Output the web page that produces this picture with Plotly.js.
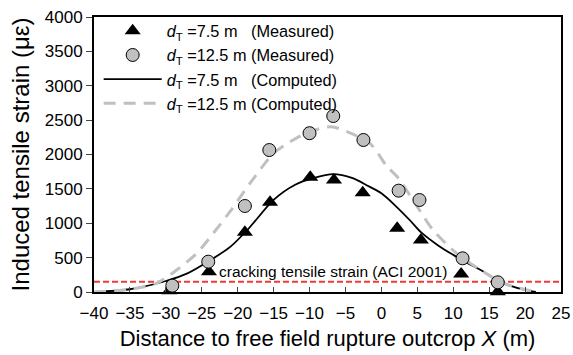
<!DOCTYPE html>
<html>
<head>
<meta charset="utf-8">
<script src="https://cdn.plot.ly/plotly-3.0.1.min.js"></script>
<style>html,body{margin:0;padding:0;background:#fff;}#chart{width:573px;height:355px;}</style>
</head>
<body>
<div id="chart"></div>
<script>
// Measured data, d_T = 7.5 m
var measX75 = [-29.5, -24, -19, -15.5, -9.9, -6.6, -2.6, 2.2, 5.5, 11.1, 16.2];
var measY75 = [20, 295, 868, 1305, 1668, 1630, 1445, 926, 756, 262, 5];
// Measured data, d_T = 12.5 m
var measX125 = [-29.1, -24.1, -19, -15.6, -10, -6.7, -2.5, 2.4, 5.3, 11.3, 16.2];
var measY125 = [92, 441, 1251, 2065, 2310, 2560, 2211, 1474, 1338, 490, 141];
// Computed curve, d_T = 7.5 m
var compX75 = [-40, -35, -30, -27, -24, -21, -18.5, -15, -12, -9.5, -6.7, -4, -2, 0, 2, 4, 5.5, 8, 10, 12, 14, 16, 18, 20, 21.5];
var compY75 = [0, 40, 160, 270, 450, 660, 920, 1340, 1560, 1655, 1715, 1655, 1550, 1435, 1250, 1040, 870, 670, 540, 420, 310, 180, 90, 30, 0];
// Computed curve, d_T = 12.5 m
var compX125 = [-40, -35, -31.3, -28.5, -25.7, -23.4, -21, -18.3, -15, -12.7, -10, -7, -4.8, -1.6, 0.8, 2.2, 5, 7.2, 10.5, 13.8, 17, 20.7, 22];
var compY125 = [0, 40, 126, 320, 563, 854, 1180, 1580, 2017, 2186, 2330, 2404, 2332, 2163, 1823, 1677, 1240, 900, 560, 320, 126, 20, 0];
// Cracking tensile strain threshold (ACI 2001)
var crackX = [-40, 25];
var crackY = [150, 150];
var crackLabel = "cracking tensile strain (ACI 2001)";
var legendNames = [
  "<i>d</i><sub>T</sub> =7.5 m\u00a0\u00a0\u00a0(Measured)",
  "<i>d</i><sub>T</sub> =12.5 m (Measured)",
  "<i>d</i><sub>T</sub> =7.5 m\u00a0\u00a0\u00a0(Computed)",
  "<i>d</i><sub>T</sub> =12.5 m (Computed)"
];

var FONT = "Liberation Sans, Arial, sans-serif";

var traces = [
  {x: crackX, y: crackY, mode: "lines", showlegend: false, hoverinfo: "skip",
   line: {color: "#ee3a30", width: 2, dash: "6px,3px"}},
  {x: compX75, y: compY75, mode: "lines", name: legendNames[2], legendrank: 3,
   line: {color: "#000000", width: 1.8, shape: "spline", smoothing: 0.8}},
  {x: compX125, y: compY125, mode: "lines", name: legendNames[3], legendrank: 4,
   line: {color: "#c0c0c0", width: 3, dash: "12px,8px", shape: "spline", smoothing: 0.8}},
  {x: measX75, y: measY75, mode: "markers", name: legendNames[0], legendrank: 1, cliponaxis: false,
   marker: {symbol: "triangle-up", size: 14, color: "#000000"}},
  {x: measX125, y: measY125, mode: "markers", name: legendNames[1], legendrank: 2, cliponaxis: false,
   marker: {symbol: "circle", size: 13, color: "#c0c0c0", line: {color: "#000000", width: 1}}}
];

var layout = {
  width: 573, height: 355,
  margin: {l: 94, r: 12, t: 17, b: 63},
  paper_bgcolor: "#ffffff", plot_bgcolor: "#ffffff",
  font: {family: FONT, size: 17, color: "#000000"},
  showlegend: true,
  legend: {x: 0.01, xanchor: "left", y: 1.012, yanchor: "top", bgcolor: "rgba(0,0,0,0)",
           font: {family: FONT, size: 16.3, color: "#000"}, itemwidth: 58, tracegroupgap: 0},
  xaxis: {range: [-40, 25], dtick: 5, tick0: 0, ticks: "inside", ticklen: 5, tickwidth: 1,
          showline: true, linewidth: 2, linecolor: "#000", mirror: true, showgrid: false, zeroline: false,
          ticklabelstandoff: 5, tickfont: {size: 17},
          title: {text: "Distance to free field rupture outcrop <i>X</i> (m)", font: {size: 22}, standoff: 8}},
  yaxis: {range: [0, 4000], dtick: 500, ticks: "outside", ticklen: 6, tickwidth: 1,
          showline: true, linewidth: 2, linecolor: "#000", mirror: true, showgrid: false, zeroline: false,
          tickfont: {size: 17},
          title: {text: "Induced tensile strain (\u03bc\u03b5)", font: {size: 24}, standoff: 8}},
  annotations: [{x: -6.7, y: 295, xref: "x", yref: "y", text: crackLabel, showarrow: false,
                 font: {family: FONT, size: 15.5, color: "#000"}}]
};

Plotly.newPlot("chart", traces, layout, {displayModeBar: false, staticPlot: true});
</script>
</body>
</html>
